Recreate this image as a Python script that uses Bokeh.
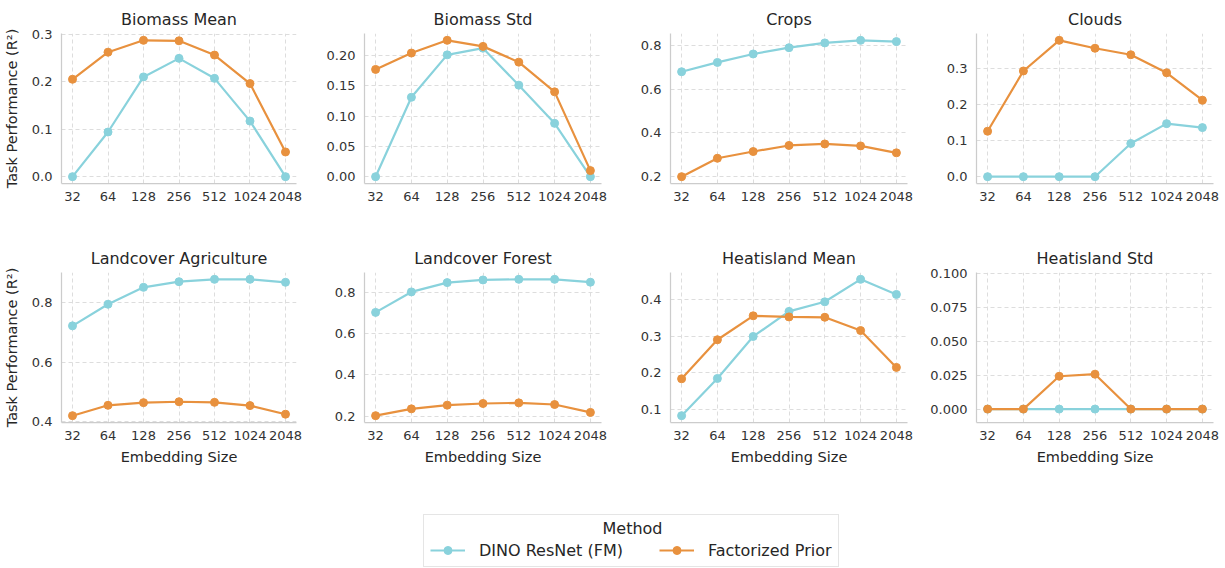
from bokeh.plotting import figure
from bokeh.layouts import column, row
from bokeh.models import (Range1d, FixedTicker, PrintfTickFormatter, Legend,
                          LegendItem)
from bokeh.core.properties import value
from bokeh.embed import file_html
from bokeh.resources import INLINE

# ---------------- data ----------------
sizes = [32, 64, 128, 256, 512, 1024, 2048]

titles = ["Biomass Mean", "Biomass Std", "Crops", "Clouds",
          "Landcover Agriculture", "Landcover Forest", "Heatisland Mean", "Heatisland Std"]

dino_biomass_mean = [0.0, 0.094, 0.210, 0.249, 0.207, 0.117, 0.0]
fp_biomass_mean = [0.205, 0.262, 0.287, 0.286, 0.256, 0.196, 0.052]

dino_biomass_std = [0.0, 0.131, 0.201, 0.212, 0.151, 0.088, 0.0]
fp_biomass_std = [0.177, 0.204, 0.225, 0.215, 0.189, 0.140, 0.010]

dino_crops = [0.681, 0.724, 0.763, 0.792, 0.814, 0.826, 0.820]
fp_crops = [0.197, 0.282, 0.313, 0.341, 0.348, 0.339, 0.307]

dino_clouds = [0.0, 0.0, 0.0, 0.0, 0.092, 0.147, 0.136]
fp_clouds = [0.126, 0.293, 0.378, 0.356, 0.338, 0.288, 0.212]

dino_lc_agri = [0.722, 0.795, 0.852, 0.871, 0.879, 0.879, 0.869]
fp_lc_agri = [0.419, 0.454, 0.463, 0.466, 0.464, 0.453, 0.424]

dino_lc_forest = [0.703, 0.802, 0.847, 0.860, 0.863, 0.863, 0.849]
fp_lc_forest = [0.203, 0.236, 0.254, 0.262, 0.265, 0.257, 0.219]

dino_heat_mean = [0.084, 0.185, 0.299, 0.367, 0.393, 0.454, 0.413]
fp_heat_mean = [0.184, 0.290, 0.355, 0.352, 0.351, 0.315, 0.215]

dino_heat_std = [0.0, 0.0, 0.0, 0.0, 0.0, 0.0, 0.0]
fp_heat_std = [0.0, 0.0, 0.0242, 0.0257, 0.0, 0.0, 0.0]

dino_series = [dino_biomass_mean, dino_biomass_std, dino_crops, dino_clouds,
               dino_lc_agri, dino_lc_forest, dino_heat_mean, dino_heat_std]
fp_series = [fp_biomass_mean, fp_biomass_std, fp_crops, fp_clouds,
             fp_lc_agri, fp_lc_forest, fp_heat_mean, fp_heat_std]

y_ticks = [
    [0.0, 0.1, 0.2, 0.3],
    [0.0, 0.05, 0.10, 0.15, 0.20],
    [0.2, 0.4, 0.6, 0.8],
    [0.0, 0.1, 0.2, 0.3],
    [0.4, 0.6, 0.8],
    [0.2, 0.4, 0.6, 0.8],
    [0.1, 0.2, 0.3, 0.4],
    [0.0, 0.025, 0.05, 0.075, 0.1],
]
y_formats = ["%.1f", "%.2f", "%.1f", "%.1f", "%.1f", "%.1f", "%.1f", "%.3f"]
fixed_yrange = {7: (-0.0099, 0.1007)}

series_names = ["DINO ResNet (FM)", "Factorized Prior"]
legend_title = "Method"
y_label = "Task Performance (R²)"
x_label = "Embedding Size"

CYAN = "#89d2dc"
ORANGE = "#e8913e"
FONT = "DejaVu Sans"

col_widths = [305, 306, 306, 308]
LEFT = 59
FRAME_W = 237


def make_panel(i):
    r, c = divmod(i, 4)
    dino, fp = dino_series[i], fp_series[i]
    lo = min(min(dino), min(fp))
    hi = max(max(dino), max(fp))
    m = (hi - lo) * 0.05
    yr = fixed_yrange.get(i, (lo - m, hi + m))
    w = col_widths[c]
    if r == 0:
        h, top, bottom = 235, 33, 52
    else:
        h, top, bottom = 255, 37, 68
    p = figure(width=w, height=h, x_axis_type="log",
               x_range=Range1d(sizes[0] / 2 ** 0.31, sizes[-1] * 2 ** 0.31),
               y_range=Range1d(*yr), output_backend="svg", toolbar_location=None,
               min_border_left=LEFT, min_border_right=w - LEFT - FRAME_W,
               min_border_top=top, min_border_bottom=bottom)
    p.title.text = titles[i]
    p.title.align = "center"
    p.title.text_font = FONT
    p.title.text_font_size = "16px"
    p.title.text_font_style = "normal"
    p.title.text_color = "#262626"
    p.title.standoff = 10
    p.outline_line_color = None
    p.background_fill_color = "white"
    p.border_fill_color = "white"

    p.xaxis.ticker = FixedTicker(ticks=sizes)
    p.xaxis.formatter = PrintfTickFormatter(format="%d")
    p.yaxis.ticker = FixedTicker(ticks=y_ticks[i])
    p.yaxis.formatter = PrintfTickFormatter(format=y_formats[i])
    for ax in (p.xaxis, p.yaxis):
        ax.axis_line_color = "#cccccc"
        ax.axis_line_width = 1.25
        ax.major_tick_line_color = None
        ax.minor_tick_line_color = None
        ax.major_tick_out = 0
        ax.major_tick_in = 0
        ax.major_label_text_font = FONT
        ax.major_label_text_font_size = "13px"
        ax.major_label_text_color = "#333333"
        ax.axis_label_text_font = FONT
        ax.axis_label_text_font_size = "14.5px"
        ax.axis_label_text_font_style = "normal"
        ax.axis_label_text_color = "#262626"
    p.xaxis.major_label_standoff = 8
    p.yaxis.major_label_standoff = 9
    p.yaxis.axis_label_standoff = 9
    p.xaxis.axis_label_standoff = 6
    if c == 0:
        p.yaxis.axis_label = y_label
    if r == 1:
        p.xaxis.axis_label = x_label

    p.grid.grid_line_color = "#dddddd"
    p.grid.grid_line_dash = "4 3"
    p.grid.grid_line_width = 1

    p.line(sizes, dino, color=CYAN, line_width=2.2)
    p.scatter(sizes, dino, size=8, color=CYAN)
    p.line(sizes, fp, color=ORANGE, line_width=2.2)
    p.scatter(sizes, fp, size=8, color=ORANGE)
    return p


panels = [make_panel(i) for i in range(8)]

# ---------------- legend strip ----------------
LW, LH = 1225, 78
lf = figure(width=LW, height=LH, output_backend="svg", toolbar_location=None,
            x_range=Range1d(0, LW), y_range=Range1d(0, LH),
            x_axis_location=None, y_axis_location=None,
            min_border=0, min_border_left=0, min_border_right=0,
            min_border_top=0, min_border_bottom=0)
lf.outline_line_color = None
lf.grid.visible = False
r1 = lf.line(sizes, dino_biomass_mean, color=CYAN, line_width=2.2, visible=False)
s1 = lf.scatter(sizes, dino_biomass_mean, size=8, color=CYAN, visible=False)
r2 = lf.line(sizes, fp_biomass_mean, color=ORANGE, line_width=2.2, visible=False)
s2 = lf.scatter(sizes, fp_biomass_mean, size=8, color=ORANGE, visible=False)
# legend title, centred over the legend box
lf.text(x=[632], y=[40], text=[legend_title], text_align="center",
        text_baseline="middle", text_font=value(FONT), text_font_size="16px",
        text_color="#262626")
legend = Legend(items=[LegendItem(label=series_names[0], renderers=[r1, s1]),
                       LegendItem(label=series_names[1], renderers=[r2, s2])],
                orientation="horizontal", location=(423, 1),
                title="\u00a0")
legend.label_text_font = FONT
legend.label_text_font_size = "16px"
legend.label_text_color = "#262626"
legend.title_text_font = FONT
legend.title_text_font_size = "16px"
legend.title_standoff = 0
legend.glyph_width = 35
legend.glyph_height = 20
legend.label_standoff = 14
legend.spacing = 36
legend.padding = 6
legend.margin = 0
legend.border_line_color = "#cccccc"
legend.border_line_width = 1
legend.background_fill_alpha = 0
lf.add_layout(legend)

layout = column(row(*panels[:4]), row(*panels[4:]), lf)
open("out.html", "w").write(file_html(layout, INLINE))
